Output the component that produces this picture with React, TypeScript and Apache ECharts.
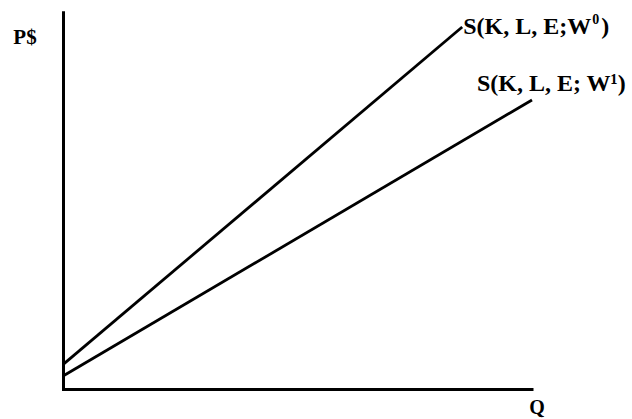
import { useEffect, useRef } from "react";
import * as echarts from "echarts";

// Supply curves: [Q, P] end points (axis units 0–100)
const supplyW0: number[][] = [
  [0, 6.6],
  [85.1, 96.2],
];
const supplyW1: number[][] = [
  [0, 3.5],
  [100, 76.8],
];
const seriesNames = ["S(K, L, E;W0)", "S(K, L, E; W1)"];
const axisTitles = ["P$", "Q"];

const FONT = "Liberation Serif";

export default function App() {
  const ref = useRef<HTMLDivElement>(null);

  useEffect(() => {
    if (!ref.current) return;
    const chart = echarts.init(ref.current, undefined, { renderer: "svg" });
    const axisCommon = {
      type: "value" as const,
      min: 0,
      max: 100,
      axisLine: { show: true, lineStyle: { color: "#000", width: 3, cap: "square" } },
      axisTick: { show: false },
      axisLabel: { show: false },
      splitLine: { show: false },
    };
    chart.setOption({
      animation: false,
      backgroundColor: "#fff",
      grid: { left: 63.5, right: 100, top: 12.7, bottom: 30, containLabel: false },
      xAxis: { ...axisCommon },
      yAxis: { ...axisCommon },
      series: [
        {
          name: seriesNames[0],
          type: "line",
          data: supplyW0,
          symbol: "none",
          lineStyle: { color: "#000", width: 2.8 },
          z: 3,
          endLabel: {
            show: true,
            distance: 1,
            offset: [0, -1],
            formatter: "{m|S(K, L, E;W}{sup|0}{m|)}",
            rich: {
              m: { fontFamily: FONT, fontWeight: "bold", fontSize: 24, color: "#000", lineHeight: 26 },
              sup: {
                fontFamily: FONT,
                fontWeight: "bold",
                fontSize: 14,
                color: "#000",
                lineHeight: 26,
                verticalAlign: "top",
                padding: [0, 2, 0, 1],
              },
            },
          },
        },
        {
          name: seriesNames[1],
          type: "line",
          data: supplyW1,
          symbol: "none",
          lineStyle: { color: "#000", width: 2.8 },
          z: 3,
          endLabel: {
            show: true,
            distance: 1,
            offset: [-56, -17],
            formatter: "S(K, L, E; W¹)",
            fontFamily: FONT,
            fontWeight: "bold",
            fontSize: 24,
            color: "#000",
          },
        },
      ],
      graphic: [
        {
          type: "text",
          x: 25,
          y: 37,
          style: {
            text: axisTitles[0],
            fontFamily: FONT,
            fontWeight: "bold",
            fontSize: 21,
            fill: "#000",
            textAlign: "center",
            textVerticalAlign: "middle",
          },
        },
        {
          type: "text",
          x: 537,
          y: 407,
          style: {
            text: axisTitles[1],
            fontFamily: FONT,
            fontWeight: "bold",
            fontSize: 20,
            fill: "#000",
            textAlign: "center",
            textVerticalAlign: "middle",
          },
        },
      ],
    });
    return () => chart.dispose();
  }, []);

  return (
    <div
      ref={ref}
      style={{ position: "fixed", left: 0, top: 0, width: 632, height: 419 }}
    />
  );
}
